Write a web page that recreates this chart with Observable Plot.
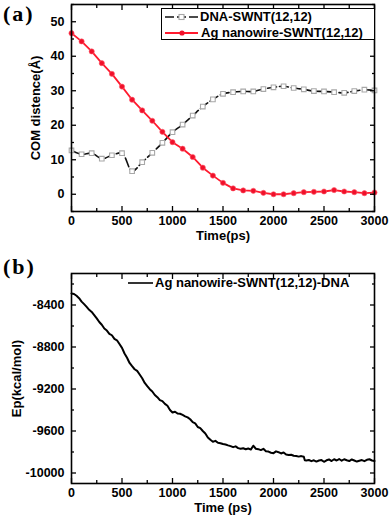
<!DOCTYPE html>
<html>
<head>
<meta charset="utf-8">
<script src="https://cdn.jsdelivr.net/npm/d3@7"></script>
<script src="https://cdn.jsdelivr.net/npm/@observablehq/plot@0.6"></script>
<style>
  html, body { margin:0; padding:0; background:#fff; }
  #wrap { position:relative; width:392px; height:522px; background:#fff; font-family:"Liberation Sans", Arial, sans-serif; }
  .plot { position:absolute; left:0; }
  .panel { position:absolute; font-family:"Liberation Serif", "DejaVu Serif", serif; font-weight:bold; font-size:22px; letter-spacing:2px; color:#000; }
  .legend { position:absolute; font-weight:bold; font-size:13px; color:#000; }
  .legend .row { position:absolute; white-space:nowrap; line-height:14px; }
</style>
</head>
<body>
<div id="wrap"></div>
<script>
// ---- Panel (a): COM distance ----
const timesA = [0,100,200,300,400,500,600,700,800,900,1000,1100,1200,1300,1400,1500,1600,1700,1800,1900,2000,2100,2200,2300,2400,2500,2600,2700,2800,2900,3000];
const dnaCom = [12.7,11.6,11.9,10.3,11.3,11.9,6.7,9.3,12.0,14.9,18.0,20.2,22.8,25.4,27.5,29.1,29.6,29.8,29.8,30.5,31.0,31.3,30.8,30.4,29.9,29.8,29.6,29.4,29.9,30.3,30.1];
const agCom = [46.7,44.3,41.4,38.0,34.9,31.2,27.4,24.3,21.3,18.1,15.1,13.2,10.8,7.7,5.4,3.3,1.7,1.1,1.0,0.4,0.0,0.0,0.3,0.6,0.7,0.8,1.2,0.8,0.6,0.3,0.5];
const seriesNamesA = ["DNA-SWNT(12,12)", "Ag nanowire-SWNT(12,12)"];
const xTicks = [0,500,1000,1500,2000,2500,3000];
const xMinor = [250,750,1250,1750,2250,2750];
const yTicksA = [0,10,20,30,40,50];
const yMinorA = [-5,5,15,25,35,45,55];

// ---- Panel (b): potential energy ----
const timesB = [0,25,50,75,100,125,150,175,200,225,250,275,300,325,350,375,400,425,450,475,500,525,550,575,600,625,650,675,700,725,750,775,800,825,850,875,900,925,950,975,1000,1025,1050,1075,1100,1125,1150,1175,1200,1225,1250,1275,1300,1325,1350,1375,1400,1425,1450,1475,1500,1525,1550,1575,1600,1625,1650,1675,1700,1725,1750,1775,1800,1825,1850,1875,1900,1925,1950,1975,2000,2025,2050,2075,2100,2125,2150,2175,2200,2225,2250,2275,2300,2310,2325,2350,2375,2400,2425,2450,2475,2500,2525,2550,2575,2600,2625,2650,2675,2700,2725,2750,2775,2800,2825,2850,2875,2900,2925,2950,2975,3000];
const epB = [-8290,-8295,-8312,-8335,-8368,-8392,-8418,-8446,-8466,-8497,-8528,-8562,-8588,-8624,-8643,-8674,-8688,-8722,-8736,-8772,-8808,-8862,-8903,-8952,-8983,-9012,-9028,-9062,-9098,-9142,-9173,-9202,-9224,-9257,-9278,-9306,-9316,-9342,-9360,-9400,-9424,-9416,-9434,-9436,-9447,-9460,-9470,-9488,-9516,-9528,-9562,-9573,-9600,-9624,-9662,-9684,-9702,-9694,-9712,-9716,-9724,-9728,-9737,-9744,-9754,-9746,-9763,-9769,-9764,-9774,-9766,-9777,-9740,-9769,-9773,-9782,-9770,-9792,-9796,-9807,-9811,-9794,-9802,-9814,-9804,-9824,-9829,-9826,-9836,-9838,-9844,-9839,-9846,-9878,-9881,-9876,-9887,-9879,-9891,-9881,-9877,-9893,-9879,-9871,-9886,-9869,-9881,-9867,-9883,-9869,-9879,-9886,-9871,-9881,-9891,-9883,-9877,-9887,-9874,-9869,-9881,-9886];
const seriesNameB = "Ag nanowire-SWNT(12,12)-DNA";
const yTicksB = [-8400,-8800,-9200,-9600,-10000];
const yMinorB = [-8200,-8600,-9000,-9400,-9800];

const dataA = timesA.map((t,i) => ({t, dna: dnaCom[i], ag: agCom[i]}));
const dataB = timesB.map((t,i) => ({t, ep: epB[i]}));

const baseStyle = {fontFamily:"'Liberation Sans', Arial, sans-serif", fontWeight:"bold", fontSize:"12.5px", color:"#000", background:"transparent", overflow:"visible"};
const blank = () => "";
const plain = d => String(d);

function frameAxes(yTicks, yMinor, xLabel, yLabel, yLabelDx) {
  return [
    Plot.axisX({anchor:"bottom", ticks:xTicks, tickSize:0, tickPadding:5, tickFormat:plain, label:null}),
    Plot.axisY({anchor:"left", ticks:yTicks, tickSize:0, tickPadding:7, tickFormat:plain, label:null}),
    Plot.axisX({anchor:"bottom", ticks:xTicks, tickSize:-5, tickFormat:blank, label:null, strokeWidth:1.3}),
    Plot.axisX({anchor:"bottom", ticks:xMinor, tickSize:-3, tickFormat:blank, label:null, strokeWidth:1.3}),
    Plot.axisX({anchor:"top", ticks:xTicks, tickSize:-5, tickFormat:blank, label:null, strokeWidth:1.3}),
    Plot.axisX({anchor:"top", ticks:xMinor, tickSize:-3, tickFormat:blank, label:null, strokeWidth:1.3}),
    Plot.axisY({anchor:"left", ticks:yTicks, tickSize:-5, tickFormat:blank, label:null, strokeWidth:1.3}),
    Plot.axisY({anchor:"left", ticks:yMinor, tickSize:-3, tickFormat:blank, label:null, strokeWidth:1.3}),
    Plot.axisY({anchor:"right", ticks:yTicks, tickSize:-5, tickFormat:blank, label:null, strokeWidth:1.3}),
    Plot.axisY({anchor:"right", ticks:yMinor, tickSize:-3, tickFormat:blank, label:null, strokeWidth:1.3}),
    Plot.frame({stroke:"#000", strokeWidth:1.6}),
    Plot.text([xLabel], {frameAnchor:"bottom", dy:28, fontSize:13, fontWeight:"bold", fill:"#000"}),
    Plot.text([yLabel], {frameAnchor:"left", textAnchor:"middle", rotate:-90, dx:yLabelDx, fontSize:13, fontWeight:"bold", fill:"#000"})
  ];
}

const plotA = Plot.plot({
  width:392, height:250,
  marginLeft:71, marginRight:18, marginTop:4, marginBottom:39,
  style: baseStyle,
  x:{domain:[0,3000]},
  y:{domain:[-5,55]},
  marks:[
    Plot.line(dataA, {x:"t", y:"dna", stroke:"#111", strokeWidth:1.6, strokeDasharray:"9,3", curve:"catmull-rom"}),
    Plot.dot(dataA, {x:"t", y:"dna", symbol:"square", r:2.6, stroke:"#a8a8a8", fill:"#fff", strokeWidth:1.1}),
    Plot.line(dataA, {x:"t", y:"ag", stroke:"#ff1a2e", strokeWidth:1.8}),
    Plot.dot(dataA, {x:"t", y:"ag", r:2.6, fill:"#f0102a", stroke:"#ff6070", strokeWidth:0.6}),
    ...frameAxes(yTicksA, yMinorA, "Time(ps)", "COM distence(Å)", -36)
  ]
});

const plotB = Plot.plot({
  width:392, height:272,
  marginLeft:71, marginRight:18, marginTop:23, marginBottom:39,
  style: baseStyle,
  x:{domain:[0,3000]},
  y:{domain:[-10100,-8100]},
  marks:[
    Plot.line(dataB, {x:"t", y:"ep", stroke:"#000", strokeWidth:2}),
    ...frameAxes(yTicksB, yMinorB, "Time (ps)", "Ep(kcal/mol)", -55)
  ]
});

const wrap = document.getElementById("wrap");
plotA.classList.add("plot"); plotA.style.top = "0px";
plotB.classList.add("plot"); plotB.style.top = "250px";
wrap.appendChild(plotA);
wrap.appendChild(plotB);

// panel labels
const la = document.createElement("div"); la.className = "panel"; la.textContent = "(a)";
la.style.left = "3px"; la.style.top = "1px"; wrap.appendChild(la);
const lb = document.createElement("div"); lb.className = "panel"; lb.textContent = "(b)";
lb.style.left = "3px"; lb.style.top = "254px"; wrap.appendChild(lb);

// legend (a)
const legA = document.createElement("div");
legA.className = "legend";
legA.style.left = "161px"; legA.style.top = "8px"; legA.style.width = "212px"; legA.style.height = "30px";
legA.style.border = "1px solid #000"; legA.style.borderRight = "none"; legA.style.background = "#fff";
legA.innerHTML =
  `<svg width="40" height="30" style="position:absolute;left:0;top:0">
     <line x1="3" y1="8" x2="36" y2="8" stroke="#111" stroke-width="1.6" stroke-dasharray="9,3"/>
     <rect x="17" y="5.5" width="5" height="5" fill="#fff" stroke="#a8a8a8" stroke-width="1.1"/>
     <line x1="3" y1="24" x2="36" y2="24" stroke="#ff1a2e" stroke-width="1.8"/>
     <circle cx="20" cy="24" r="2.6" fill="#f0102a"/>
   </svg>
   <div class="row" style="left:38px;top:1px">${seriesNamesA[0]}</div>
   <div class="row" style="left:39px;top:17px">${seriesNamesA[1]}</div>`;
wrap.appendChild(legA);

// legend (b)
const legB = document.createElement("div");
legB.className = "legend";
legB.style.left = "126px"; legB.style.top = "276px";
legB.innerHTML =
  `<svg width="30" height="14" style="position:absolute;left:0;top:0">
     <line x1="2" y1="7" x2="27" y2="7" stroke="#000" stroke-width="1.6"/>
   </svg>
   <div class="row" style="left:29px;top:0px">${seriesNameB}</div>`;
wrap.appendChild(legB);
</script>
</body>
</html>
